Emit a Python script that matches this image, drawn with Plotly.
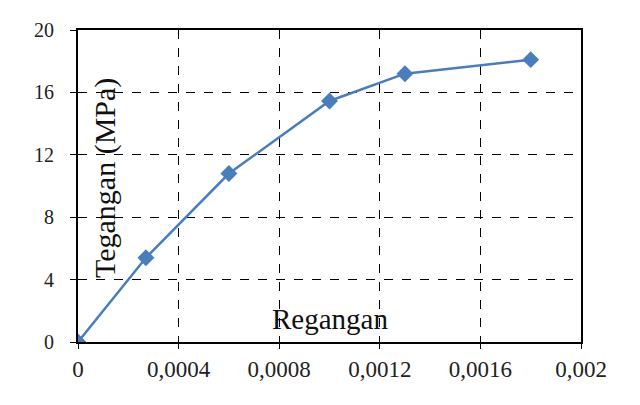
import plotly.graph_objects as go

strain = [0, 0.00027, 0.0006, 0.001, 0.0013, 0.0018]
stress = [0, 5.4, 10.8, 15.45, 17.2, 18.1]

x_ticks = [0, 0.0004, 0.0008, 0.0012, 0.0016, 0.002]
x_labels = ["0", "0,0004", "0,0008", "0,0012", "0,0016", "0,002"]
y_ticks = [0, 4, 8, 12, 16, 20]
y_labels = ["0", "4", "8", "12", "16", "20"]

font_family = "Liberation Serif"

fig = go.Figure()
fig.add_trace(go.Scatter(
    x=strain, y=stress, mode="lines+markers",
    line=dict(color="#4A7EBB", width=2.5),
    marker=dict(symbol="diamond", size=13, color="#4A7EBB"),
    showlegend=False,
))

axis_common = dict(
    showgrid=True, gridcolor="black", griddash="dash", gridwidth=1,
    showline=True, linecolor="black", linewidth=2, mirror=True,
    ticks="outside", tickcolor="black", tickwidth=1,
    zeroline=False,
)

fig.update_xaxes(range=[0, 0.002], tickvals=x_ticks, ticktext=x_labels,
                 ticklabelstandoff=0, ticklen=5,
                 tickfont=dict(family=font_family, size=23, color="#222222"),
                 **axis_common)
fig.update_yaxes(range=[0, 20], tickvals=y_ticks, ticktext=y_labels,
                 ticklabelstandoff=12, ticklen=6,
                 tickfont=dict(family=font_family, size=20, color="#222222"),
                 **axis_common)

fig.add_annotation(text="Regangan", x=(330 - 78) / 503, xref="paper",
                   y=(342 - 319) / 312, yref="paper",
                   xanchor="center", yanchor="middle",
                   showarrow=False, font=dict(family=font_family, size=29, color="#111111"))
fig.add_annotation(text="Tegangan (MPa)", textangle=-90, xref="paper", yref="paper",
                   x=(105 - 78) / 503, y=(342 - 178) / 312,
                   xanchor="center", yanchor="middle", showarrow=False,
                   font=dict(family=font_family, size=30, color="#111111"))

fig.update_layout(
    width=640, height=405,
    margin=dict(l=78, r=59, t=30, b=63),
    plot_bgcolor="white", paper_bgcolor="white",
)

fig.write_html("out.html")
